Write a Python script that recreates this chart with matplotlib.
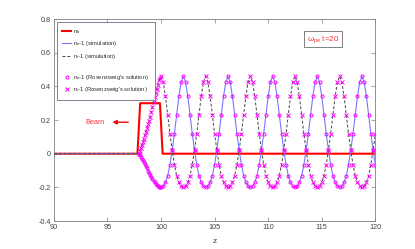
import numpy as np
import matplotlib
matplotlib.use("Agg")
import matplotlib.pyplot as plt
from matplotlib.lines import Line2D

plt.rcParams['font.family'] = ['Liberation Sans', 'DejaVu Sans']
plt.rcParams['mathtext.fontset'] = 'custom'
plt.rcParams['mathtext.rm'] = 'Liberation Sans'
plt.rcParams['mathtext.it'] = 'Liberation Sans'

# ---------------- data ----------------
beam_z = [90, 97.8, 98.05, 99.9, 100.15, 120]
beam_n = [0, 0, 0.3, 0.3, 0, 0]

# region inside the beam (z = 97.9 ... 99.9, step 0.1)
z_beam = [97.9, 98.0, 98.1, 98.2, 98.3, 98.4, 98.5, 98.6, 98.7, 98.8, 98.9,
          99.0, 99.1, 99.2, 99.3, 99.4, 99.5, 99.6, 99.7, 99.8, 99.9]
ni_beam = [0.0, 0.015, 0.035, 0.05, 0.07, 0.09, 0.11, 0.13, 0.15, 0.175, 0.195,
           0.22, 0.25, 0.28, 0.305, 0.335, 0.36, 0.385, 0.41, 0.435, 0.45]
ne_beam = [0.0, -0.01, -0.02, -0.03, -0.04, -0.05, -0.06, -0.073, -0.087, -0.1, -0.113,
           -0.125, -0.138, -0.15, -0.16, -0.17, -0.178, -0.186, -0.192, -0.196, -0.199]

# wake behind the beam head (z from 100 to ~120)
z_wake = np.linspace(100.0, 120.016, 97)
ni_wake = [
    0.46, 0.425, 0.34, 0.23, 0.12, 0.02, -0.065, -0.13, -0.17, -0.193, -0.2, -0.193, -0.17, -0.13, -0.065, 0.02, 0.12, 0.23, 0.34, 0.425,
    0.46, 0.425, 0.34, 0.23, 0.12, 0.02, -0.065, -0.13, -0.17, -0.193, -0.2, -0.193, -0.17, -0.13, -0.065, 0.02, 0.12, 0.23, 0.34, 0.425,
    0.46, 0.425, 0.34, 0.23, 0.12, 0.02, -0.065, -0.13, -0.17, -0.193, -0.2, -0.193, -0.17, -0.13, -0.065, 0.02, 0.12, 0.23, 0.34, 0.425,
    0.46, 0.425, 0.34, 0.23, 0.12, 0.02, -0.065, -0.13, -0.17, -0.193, -0.2, -0.193, -0.17, -0.13, -0.065, 0.02, 0.12, 0.23, 0.34, 0.425,
    0.46, 0.425, 0.34, 0.23, 0.12, 0.02, -0.065, -0.13, -0.17, -0.193, -0.2, -0.193, -0.17, -0.13, -0.065, 0.02, 0.12]
ne_wake = [
    -0.2, -0.193, -0.17, -0.13, -0.065, 0.02, 0.12, 0.23, 0.34, 0.425, 0.46, 0.425, 0.34, 0.23, 0.12, 0.02, -0.065, -0.13, -0.17, -0.193,
    -0.2, -0.193, -0.17, -0.13, -0.065, 0.02, 0.12, 0.23, 0.34, 0.425, 0.46, 0.425, 0.34, 0.23, 0.12, 0.02, -0.065, -0.13, -0.17, -0.193,
    -0.2, -0.193, -0.17, -0.13, -0.065, 0.02, 0.12, 0.23, 0.34, 0.425, 0.46, 0.425, 0.34, 0.23, 0.12, 0.02, -0.065, -0.13, -0.17, -0.193,
    -0.2, -0.193, -0.17, -0.13, -0.065, 0.02, 0.12, 0.23, 0.34, 0.425, 0.46, 0.425, 0.34, 0.23, 0.12, 0.02, -0.065, -0.13, -0.17, -0.193,
    -0.2, -0.193, -0.17, -0.13, -0.065, 0.02, 0.12, 0.23, 0.34, 0.425, 0.46, 0.425, 0.34, 0.23, 0.12, 0.02, -0.065]

xticks = [90, 95, 100, 105, 110, 115, 120]
yticks = [-0.4, -0.2, 0, 0.2, 0.4, 0.6, 0.8]
ytick_labels = ['-0.4', '-0.2', '0', '0.2', '0.4', '0.6', '0.8']

# ---------------- figure ----------------
fig = plt.figure(figsize=(4.15, 2.49), dpi=100)
ax = fig.add_axes([0.130, 0.1124, 0.774, 0.811])

z_all = np.concatenate([[90.0], z_beam, z_wake])
ne_all = np.concatenate([[0.0], ne_beam, ne_wake])
ni_all = np.concatenate([[0.0], ni_beam, ni_wake])
z_mk = np.concatenate([z_beam, z_wake])
ne_mk = np.concatenate([ne_beam, ne_wake])
ni_mk = np.concatenate([ni_beam, ni_wake])

ax.plot(beam_z, beam_n, color='#ff0000', lw=1.5, zorder=2)
ax.plot(z_all, ne_all, color='#7777ff', lw=0.8, zorder=3)
ax.plot(z_all, ni_all, color='#444444', lw=0.7, ls=(0, (3, 2)), zorder=4)
ax.plot(z_mk, ne_mk, ls='none', marker='o', ms=2.2, mfc='none', mec='#ff00ff', mew=0.7, zorder=5)
ax.plot(z_mk, ni_mk, ls='none', marker='x', ms=2.2, mec='#ff00ff', mew=0.7, zorder=5)

ax.set_xlim(90, 120)
ax.set_ylim(-0.4, 0.8)
ax.set_xticks(xticks)
ax.set_yticks(yticks)
ax.set_yticklabels(ytick_labels)
ax.tick_params(direction='in', top=True, right=True, labelsize=5.2, length=3,
               width=0.5, colors='#808080', labelcolor='#404040', pad=2)
for s in ax.spines.values():
    s.set_color('#808080')
    s.set_linewidth(0.6)
ax.set_xlabel('z', fontsize=6, color='#404040', labelpad=5)

# legend
handles = [
    Line2D([], [], color='#ff0000', lw=1.5),
    Line2D([], [], color='#7777ff', lw=0.8),
    Line2D([], [], color='#444444', lw=0.7, ls=(0, (3, 2))),
    Line2D([], [], ls='none'),
    Line2D([], [], ls='none', marker='o', ms=2.2, mfc='none', mec='#ff00ff', mew=0.7),
    Line2D([], [], ls='none', marker='x', ms=2.2, mec='#ff00ff', mew=0.7),
]
labels = [r'$n_b$', r'$n_e$-1 (simulation)', r'$n_i$-1 (simulation)', ' ',
          r"$n_e$-1 (Rosenzweig's solution)", r"$n_i$-1 (Rosenzweig's solution)"]
leg = ax.legend(handles, labels, loc='upper left', bbox_to_anchor=(0.008, 0.985),
                fontsize=4.2, frameon=True, fancybox=False, borderpad=0.95,
                labelspacing=0.6, handlelength=1.6, handletextpad=0.3,
                borderaxespad=0.0)
leg.get_frame().set_edgecolor('#6e5a78')
leg.get_frame().set_linewidth(0.7)
for t in leg.get_texts():
    t.set_color('#303030')

# annotations
ax.text(0.838, 0.90, r'$\omega_{pe}$ t=20', transform=ax.transAxes, color='#ff3333',
        fontsize=5.8, ha='center', va='center',
        bbox=dict(boxstyle='square,pad=0.35', fc='white', ec='#808080', lw=0.7))
ax.text(0.128, 0.49, 'Beam', transform=ax.transAxes, color='#ff3333',
        fontsize=5.3, ha='center', va='center')
ax.annotate('', xy=(95.2, 0.187), xytext=(97.2, 0.187),
            arrowprops=dict(arrowstyle='-|>', color='#ff0000', lw=1.0,
                            mutation_scale=6))

fig.savefig('out.png', dpi=100)
